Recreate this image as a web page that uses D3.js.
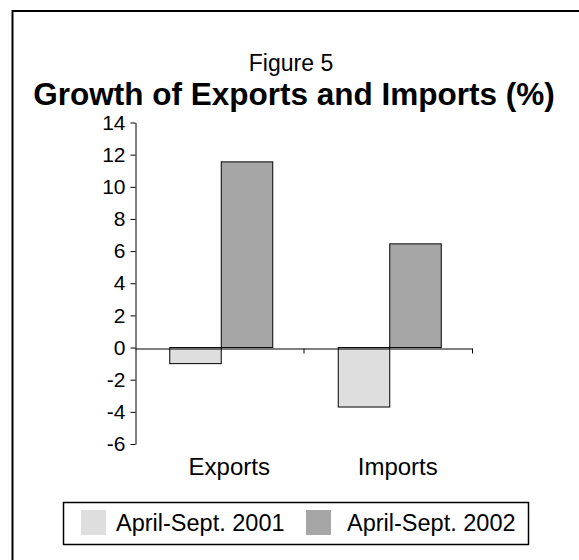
<!DOCTYPE html>
<html>
<head>
<meta charset="utf-8">
<script src="https://cdn.jsdelivr.net/npm/d3@7"></script>
<style>
  body { margin: 0; background: #fff; }
  svg { display: block; font-family: Arial, "Liberation Sans", sans-serif; }
</style>
</head>
<body>
<svg id="chart" width="579" height="560"></svg>
<script>
  const categories = ["Exports", "Imports"];
  const series = ["April-Sept. 2001", "April-Sept. 2002"];
  const values2001 = [-1.0, -3.7];
  const values2002 = [11.55, 6.45];
  const yTicks = [14, 12, 10, 8, 6, 4, 2, 0, -2, -4, -6];
  const colors = ["#dedede", "#a6a6a6"];

  const svg = d3.select("#chart");

  // outer frame (only top and left visible)
  svg.append("rect")
    .attr("x", 12.5).attr("y", 11)
    .attr("width", 600).attr("height", 600)
    .attr("fill", "none").attr("stroke", "#000").attr("stroke-width", 2);

  svg.append("text")
    .attr("x", 291).attr("y", 71)
    .attr("text-anchor", "middle")
    .style("font-size", "23px")
    .text("Figure 5");

  svg.append("text")
    .attr("x", 294).attr("y", 105)
    .attr("text-anchor", "middle")
    .style("font-size", "31.5px").style("font-weight", "bold")
    .text("Growth of Exports and Imports (%)");

  const y = d3.scaleLinear().domain([-6, 14]).range([444, 122.5]);
  const x0 = d3.scaleBand().domain(categories).range([135, 472]).padding(0);
  const x1 = d3.scaleBand().domain(series).range([0, 103]);
  const groupOff = (x0.bandwidth() - 103) / 2 + 2;

  const table = categories.map((c, i) => ({
    cat: c,
    vals: [
      { s: series[0], v: values2001[i] },
      { s: series[1], v: values2002[i] }
    ]
  }));

  const g = svg.append("g");

  g.selectAll("g.cat").data(table).join("g")
    .attr("class", "cat")
    .attr("transform", d => `translate(${x0(d.cat) + groupOff},0)`)
    .selectAll("rect").data(d => d.vals).join("rect")
      .attr("x", d => x1(d.s))
      .attr("width", x1.bandwidth())
      .attr("y", d => y(Math.max(0, d.v)))
      .attr("height", d => Math.abs(y(d.v) - y(0)))
      .attr("fill", (d, i) => colors[i])
      .attr("stroke", "#000").attr("stroke-width", 1);

  // y axis
  const yAxis = g.append("g")
    .attr("transform", "translate(135.5,0)")
    .call(d3.axisLeft(y).tickValues(yTicks).tickFormat(d => String(d))
      .tickSize(5).tickSizeOuter(0).tickPadding(5))
    .attr("font-size", 21)
    .attr("font-family", "Arial, 'Liberation Sans', sans-serif");
  yAxis.select(".domain").attr("stroke", "#000");
  yAxis.selectAll("text").attr("fill", "#000");

  // x axis at zero
  const xAxis = g.append("g")
    .attr("transform", `translate(0,${Math.round(y(0)) + 0.5})`)
    .call(d3.axisBottom(x0).tickValues([]).tickSizeOuter(0));
  xAxis.select(".domain").attr("stroke", "#000");
  xAxis.selectAll("line.sep").data(categories).join("line")
    .attr("class", "sep")
    .attr("x1", d => x0(d) + x0.bandwidth() + 0.5)
    .attr("x2", d => x0(d) + x0.bandwidth() + 0.5)
    .attr("y1", 0).attr("y2", 5)
    .attr("stroke", "#000");

  g.selectAll("text.catlab").data(categories).join("text")
    .attr("class", "catlab")
    .attr("x", d => x0(d) + x0.bandwidth() / 2 + 10)
    .attr("y", 475)
    .attr("text-anchor", "middle")
    .style("font-size", "24px")
    .text(d => d);

  // legend
  const leg = svg.append("g");
  leg.append("rect")
    .attr("x", 63.5).attr("y", 502.5).attr("width", 465).attr("height", 42)
    .attr("fill", "#fff").attr("stroke", "#000").attr("stroke-width", 1.5);
  const legX = [81, 306];
  const item = leg.selectAll("g.item").data(series).join("g")
    .attr("class", "item")
    .attr("transform", (d, i) => `translate(${legX[i]},510)`);
  item.append("rect")
    .attr("width", 25).attr("height", 25)
    .attr("fill", (d, i) => colors[i]);
  item.append("text")
    .attr("x", (d, i) => i === 0 ? 35 : 41)
    .attr("y", 21)
    .style("font-size", "23.5px")
    .text(d => d);
</script>
</body>
</html>
